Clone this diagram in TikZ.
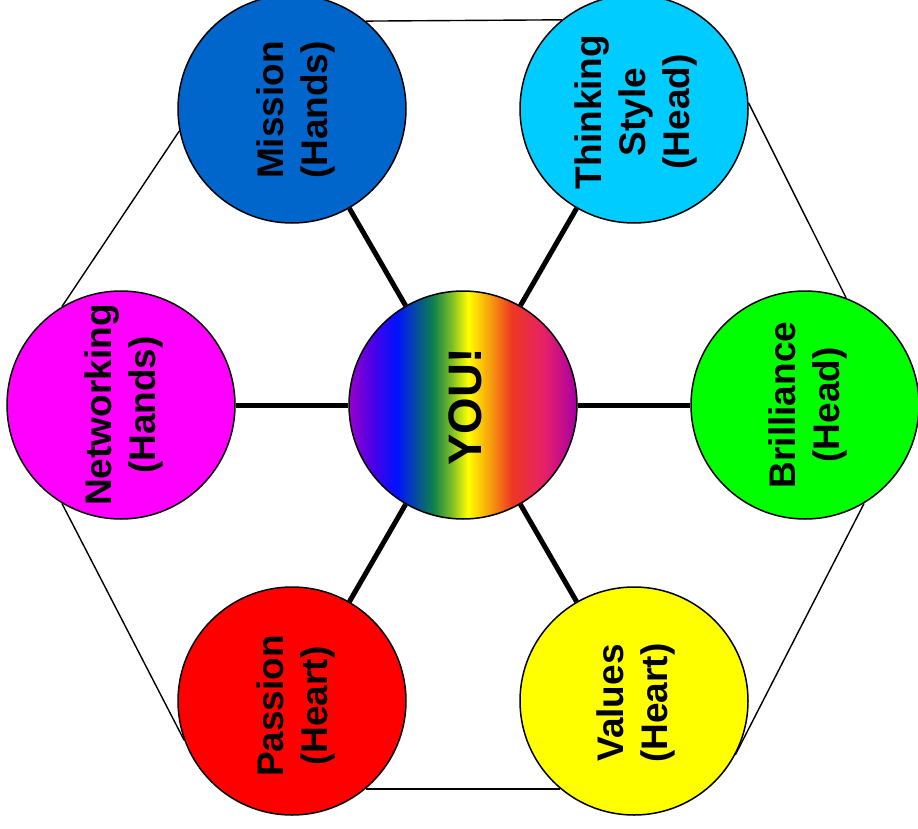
\documentclass[tikz,border=0pt]{standalone}
\usepackage{fontspec}
\setmainfont{Liberation Sans}
\definecolor{rb1}{rgb}{0.60,0.00,0.80}
\definecolor{rb2}{rgb}{0.30,0.00,0.90}
\definecolor{rb3}{rgb}{0.00,0.07,1.00}
\definecolor{rb4}{rgb}{0.05,0.50,0.30}
\definecolor{rb5}{rgb}{0.50,0.75,0.15}
\definecolor{rb6}{rgb}{1.00,1.00,0.00}
\definecolor{rb7}{rgb}{0.97,0.62,0.05}
\definecolor{rb8}{rgb}{0.93,0.22,0.13}
\definecolor{rb9}{rgb}{0.90,0.12,0.42}
\definecolor{rb10}{rgb}{0.65,0.00,0.65}
\pgfdeclarehorizontalshading{rainbow}{100bp}{color(0bp)=(rb1); color(25bp)=(rb1); color(30bp)=(rb2); color(35.5bp)=(rb3); color(43.4bp)=(rb4); color(47.6bp)=(rb5); color(51.1bp)=(rb6); color(55.9bp)=(rb7); color(60.7bp)=(rb8); color(68bp)=(rb9); color(75bp)=(rb10); color(100bp)=(rb10)}
\definecolor{cmission}{HTML}{0066CC}
\definecolor{cthink}{HTML}{00CCFF}
\definecolor{cnet}{HTML}{FF00FF}
\definecolor{cbril}{HTML}{00FF00}
\definecolor{cpass}{HTML}{FF0000}
\definecolor{cval}{HTML}{FFFF00}
\tikzset{
  circ/.style={circle, draw=black, line width=1.5pt, minimum size=228pt, inner sep=0pt},
  lbl/.style={rotate=90, align=center, text=black, inner sep=0pt,
    font=\fontsize{37}{44}\selectfont\bfseries},
  spoke/.style={line width=5pt, black},
  rim/.style={line width=1.4pt, black}
}
\begin{document}
\begin{tikzpicture}[x=1pt,y=-1pt]
\clip (0,0) rectangle (918,829);
\fill[white] (0,0) rectangle (918,829);
\node[circ, fill=cmission] (mission) at (292,109) {};
\node[circ, fill=cthink] (think) at (634,109) {};
\node[circ, fill=cnet] (net) at (121,405) {};
\node[circ, shading=rainbow] (you) at (463,405) {};
\node[circ, fill=cbril] (bril) at (805,405) {};
\node[circ, fill=cpass] (pass) at (292,701) {};
\node[circ, fill=cval] (val) at (634,701) {};
% spokes
\draw[spoke] (you) -- (mission);
\draw[spoke] (you) -- (think);
\draw[spoke] (you) -- (net);
\draw[spoke] (you) -- (bril);
\draw[spoke] (you) -- (pass);
\draw[spoke] (you) -- (val);
% outer rim
\draw[rim] (mission.50.3) -- (think.129.7);
\draw[rim] (think.3.4) -- (bril.69.4);
\draw[rim] (bril.-59) -- (val.-28.6);
\draw[rim] (val.230.3) -- (pass.-50.3);
\draw[rim] (pass.200.6) -- (net.239);
\draw[rim] (net.121) -- (mission.191.6);
% labels
\node[lbl] (tmission) at (296,110) {Mission\\(Hands)};
\node[lbl] (tthink) at (636,112) {Thinking\\Style\\(Head)};
\node[lbl] (tnet) at (124,405) {Networking\\(Hands)};
\node[lbl, font=\fontsize{47}{54}\selectfont\bfseries] (tyou) at (465,407) {YOU!};
\node[lbl] (tbril) at (808,405) {Brilliance\\(Head)};
\node[lbl] (tpass) at (296,706) {Passion\\(Heart)};
\node[lbl] (tval) at (636,703) {Values\\(Heart)};
\end{tikzpicture}
\end{document}
